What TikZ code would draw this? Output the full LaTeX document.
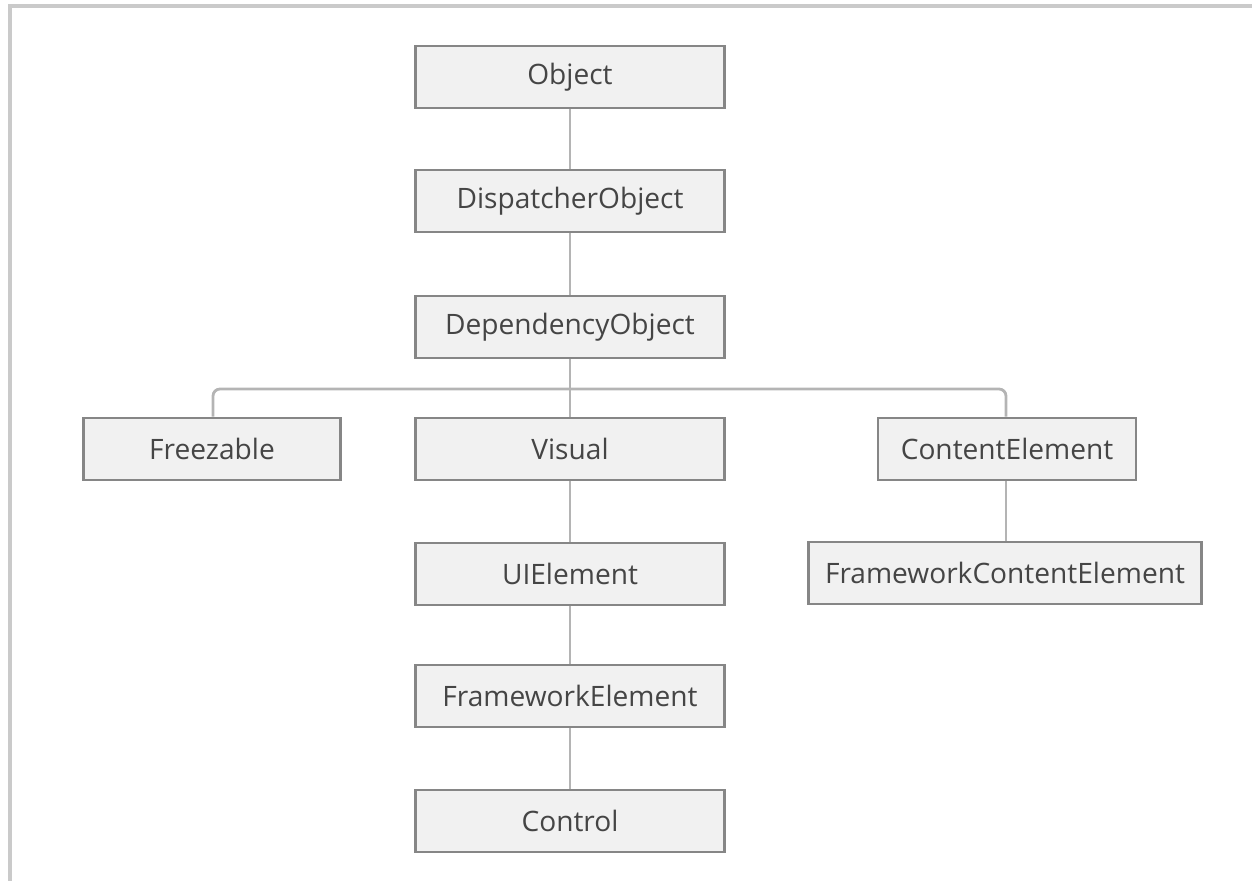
\documentclass[tikz,border=0pt]{standalone}
\usepackage{fontspec}
\setmainfont{Open Sans}
\usepackage{tikz}
\usetikzlibrary{positioning}
\definecolor{boxline}{HTML}{868686}
\definecolor{boxfill}{HTML}{F1F1F1}
\definecolor{wire}{HTML}{B4B4B4}
\definecolor{label}{HTML}{454545}
\definecolor{frame}{HTML}{CACACA}

\tikzset{
  cls/.style={draw=boxline,line width=1.6pt,fill=boxfill,text=label,
    minimum width=6.18cm,minimum height=1.24cm,inner sep=0pt,
    font=\fontsize{16}{18}\selectfont},
  link/.style={wire,line width=1.6pt,rounded corners=4pt}
}

\begin{document}
\begin{tikzpicture}[x=0.02cm,y=-0.02cm]
  \useasboundingbox (0,0) rectangle (1252,881);
  \draw[frame,line width=2.4pt] (10,881) -- (10,6) -- (1252,6);
  % main column
  \node[cls] (obj) at (570,77) {Object};
  \node[cls] (disp) at (570,201) {DispatcherObject};
  \node[cls] (dep) at (570,327) {DependencyObject};
  \node[cls] (vis) at (570,449) {Visual};
  \node[cls] (uie) at (570,574) {UIElement};
  \node[cls] (fwe) at (570,696) {FrameworkElement};
  \node[cls] (ctl) at (570,821) {Control};
  % side branches
  \node[cls,minimum width=5.14cm] (frz) at (212,449) {Freezable};
  \node[cls,minimum width=5.16cm] (cont) at (1007,449) {ContentElement};
  \node[cls,minimum width=7.86cm] (fce) at (1005,573) {FrameworkContentElement};
  \coordinate (bus) at (570,389);
  \draw[link] (obj) -- (disp);
  \draw[link] (disp) -- (dep);
  \draw[link] (dep) -- (vis);
  \draw[link] (frz.north -| 213,0) |- (bus) -| (cont.north -| 1006,0);
  \draw[link] (vis) -- (uie);
  \draw[link] (uie) -- (fwe);
  \draw[link] (fwe) -- (ctl);
  \draw[link] (cont.south -| 1006,0) -- (fce.north -| 1006,0);
\end{tikzpicture}
\end{document}
